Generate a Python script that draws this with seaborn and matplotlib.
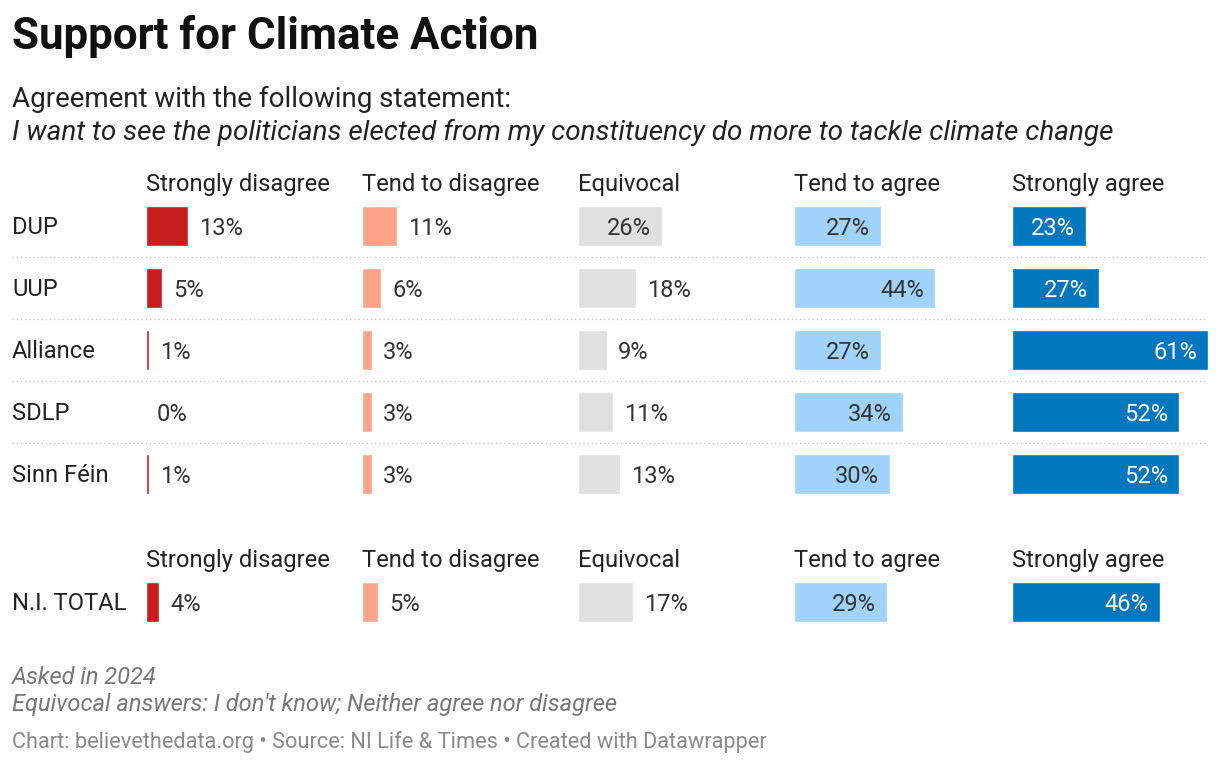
import pandas as pd
import matplotlib
matplotlib.use('Agg')
import matplotlib.pyplot as plt
import seaborn as sns

# Data
parties = ["DUP", "UUP", "Alliance", "SDLP", "Sinn Féin"]
categories = ["Strongly disagree", "Tend to disagree", "Equivocal", "Tend to agree", "Strongly agree"]
strongly_disagree = [13, 5, 1, 0, 1]
tend_to_disagree = [11, 6, 3, 3, 3]
equivocal = [26, 18, 9, 11, 13]
tend_to_agree = [27, 44, 27, 34, 30]
strongly_agree = [23, 27, 61, 52, 52]
total_label = ["N.I. TOTAL"]
total_values = [4, 5, 17, 29, 46]

colors = ["#c71e1d", "#fca48a", "#e0e0e0", "#9fd3fa", "#0277be"]
inside_text = ["#ffffff", "#333333", "#333333", "#333333", "#ffffff"]

sns.set_theme(style="white")
plt.rcParams['font.family'] = ['Roboto', 'DejaVu Sans']

W, H = 1220, 764
fig = plt.figure(figsize=(W / 100, H / 100), dpi=100)
bg = fig.add_axes([0, 0, 1, 1])
bg.set_xlim(0, W)
bg.set_ylim(H, 0)
bg.axis('off')


def px_axes(x, y, w, h):
    return fig.add_axes([x / W, 1 - (y + h) / H, w / W, h / H])


col_x = [146, 362, 578, 794, 1012]
row_h = 62
xmax = max(strongly_agree + tend_to_agree + equivocal)
span = 196  # pixels for the largest value
dy = 2  # small nudge so text sits on the row centre


def draw_group(names, cols, top):
    n = len(names)
    for j, vals in enumerate(cols):
        ax = px_axes(col_x[j], top, span, n * row_h)
        df = pd.DataFrame({'row': names, 'value': vals})
        sns.barplot(data=df, x='value', y='row', color=colors[j], saturation=1,
                    width=40 / 62, orient='h', ax=ax)
        ax.set_xlim(0, xmax)
        ax.set_ylim(n - 0.5, -0.5)
        ax.axis('off')
        for i, v in enumerate(vals):
            if v >= 20:
                ax.annotate(f"{v}%", (v, i), xytext=(-8, -1.5), textcoords='offset points',
                            ha='right', va='center', fontsize=17, color=inside_text[j])
            else:
                ax.annotate(f"{v}%", (v, i), xytext=(8, -1.5), textcoords='offset points',
                            ha='left', va='center', fontsize=17, color='#333333')


# Title & subtitle
bg.text(12, 37, "Support for Climate Action", fontsize=31.6, fontweight='bold',
        color='#111111', va='center')
bg.text(12, 99, "Agreement with the following statement:", fontsize=20,
        color='#222222', va='center')
bg.text(12, 132, "I want to see the politicians elected from my constituency do more to tackle climate change",
        fontsize=20.1, style='italic', color='#222222', va='center')

# Party table
for j, cat in enumerate(categories):
    bg.text(col_x[j], 182 + dy, cat, fontsize=17.1, color='#222222', va='center')
for i, p in enumerate(parties):
    bg.text(12, 226 + dy + i * row_h, p, fontsize=17.1, color='#222222', va='center')
for i in range(len(parties) - 1):
    y = 257 + i * row_h
    bg.plot([12, 1208], [y, y], color='#c8c8c8', lw=1, ls=(0, (1, 2)))

draw_group(parties, [strongly_disagree, tend_to_disagree, equivocal,
                     tend_to_agree, strongly_agree], 226 - row_h / 2)

# Total
for j, cat in enumerate(categories):
    bg.text(col_x[j], 558 + dy, cat, fontsize=17.1, color='#222222', va='center')
bg.text(12, 602 + dy, total_label[0], fontsize=17.1, color='#222222', va='center')
draw_group(total_label, [[v] for v in total_values], 602 - row_h / 2)

# Footer
bg.text(12, 677, "Asked in 2024", fontsize=17, style='italic', color='#777777', va='center')
bg.text(12, 705, "Equivocal answers: I don't know; Neither agree nor disagree",
        fontsize=17, style='italic', color='#777777', va='center')
bg.text(12, 742, "Chart: believethedata.org • Source: NI Life & Times • Created with Datawrapper",
        fontsize=15.7, color='#8a8a8a', va='center')

fig.savefig('out.png', dpi=100)
plt.close(fig)
